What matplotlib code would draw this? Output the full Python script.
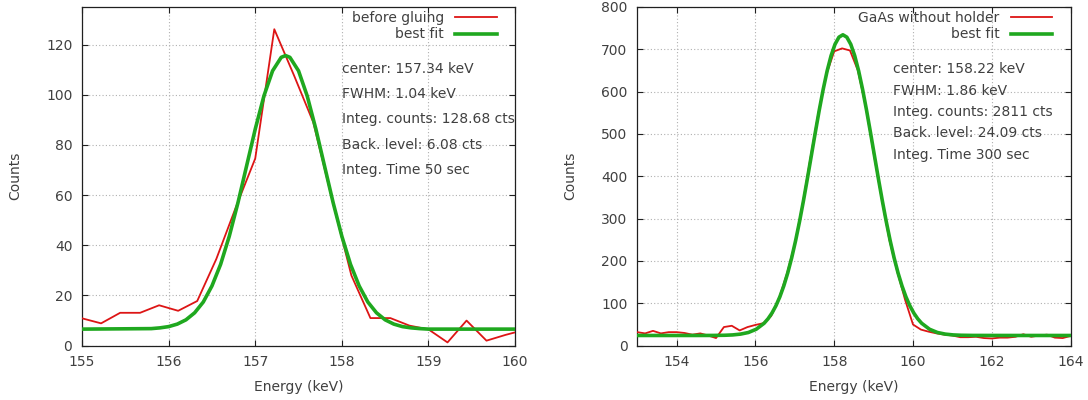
import matplotlib
matplotlib.use("Agg")
import matplotlib.pyplot as plt

# --- left panel: before gluing (counts per channel) ---
left_energy = [155.00, 155.22, 155.44, 155.67, 155.89, 156.11, 156.33, 156.55,
               156.78, 157.00, 157.22, 157.45, 157.67, 157.89, 158.11, 158.33,
               158.56, 158.78, 159.00, 159.22, 159.44, 159.67, 159.89, 160.11]
left_counts = [10.9, 8.9, 13.1, 13.1, 16.1, 13.9, 17.8, 34.5,
               55.5, 74.6, 126.1, 107.5, 89.0, 58.0, 28.0, 11.0,
               11.0, 8.0, 6.5, 1.3, 10.0, 2.0, 4.3, 6.3]

# best fit curve
left_fit_e = [155.0, 155.8, 155.9, 156.0, 156.1, 156.2, 156.3, 156.4, 156.5, 156.6,
              156.7, 156.8, 156.9, 157.0, 157.1, 157.2, 157.3, 157.35, 157.4, 157.5,
              157.6, 157.7, 157.8, 157.9, 158.0, 158.1, 158.2, 158.3, 158.4, 158.5,
              158.6, 158.7, 158.8, 158.9, 159.0, 160.0]
left_fit_c = [6.6, 6.8, 7.1, 7.6, 8.6, 10.3, 13.1, 17.4, 23.8, 32.4,
              43.6, 56.9, 71.6, 86.3, 99.5, 109.5, 114.9, 115.6, 114.9, 109.5,
              99.5, 86.3, 71.6, 56.9, 43.6, 32.4, 23.8, 17.4, 13.1, 10.3,
              8.6, 7.6, 7.1, 6.8, 6.6, 6.6]

left_info = ["center: 157.34 keV", "FWHM: 1.04 keV", "Integ. counts: 128.68 cts",
             "Back. level: 6.08 cts", "Integ. Time 50 sec"]

# --- right panel: GaAs without holder ---
right_energy = [153.0, 153.2, 153.4, 153.6, 153.8, 154.0, 154.2, 154.4, 154.6, 154.8,
                155.0, 155.2, 155.4, 155.6, 155.8, 156.0, 156.2, 156.4, 156.6, 156.8,
                157.0, 157.2, 157.4, 157.6, 157.8, 158.0, 158.2, 158.4, 158.6, 158.8,
                159.0, 159.2, 159.4, 159.6, 159.8, 160.0, 160.2, 160.4, 160.6, 160.8,
                161.0, 161.2, 161.4, 161.6, 161.8, 162.0, 162.2, 162.4, 162.6, 162.8,
                163.0, 163.2, 163.4, 163.6, 163.8, 164.0]
right_counts = [32, 29, 35, 29, 32, 32, 30, 26, 29, 24,
                18, 44, 47, 36, 44, 49, 53, 70, 112, 170,
                240, 335, 445, 550, 640, 695, 702, 697, 650, 565,
                455, 350, 250, 175, 108, 50, 38, 33, 29, 26,
                24, 20, 20, 21, 18, 17, 19, 19, 21, 27,
                21, 24, 26, 19, 18, 23]

right_fit_e = [153.00, 154.50, 154.92, 155.22, 155.42, 155.62, 155.82, 156.02, 156.22, 156.32,
               156.42, 156.52, 156.62, 156.72, 156.82, 156.92, 157.02, 157.12, 157.22, 157.32,
               157.42, 157.52, 157.62, 157.72, 157.82, 157.92, 158.02, 158.12, 158.22, 158.32,
               158.42, 158.52, 158.62, 158.72, 158.82, 158.92, 159.02, 159.12, 159.22, 159.32,
               159.42, 159.52, 159.62, 159.72, 159.82, 159.92, 160.02, 160.12, 160.22, 160.42,
               160.62, 160.82, 161.02, 161.22, 161.52, 162.50, 164.00]
right_fit_c = [24.1, 24.1, 24.2, 24.6, 25.4, 27.3, 31.1, 38.8, 52.9, 63.5,
               77.1, 94.2, 115.4, 141.2, 171.8, 207.4, 248.1, 293.4, 342.7, 395.1,
               449.3, 503.6, 556.2, 605.2, 648.7, 684.7, 711.7, 728.5, 734.1, 728.5,
               711.7, 684.7, 648.7, 605.2, 556.2, 503.6, 449.3, 395.1, 342.7, 293.4,
               248.1, 207.4, 171.8, 141.2, 115.4, 94.2, 77.1, 63.5, 52.9, 38.8,
               31.1, 27.3, 25.4, 24.6, 24.2, 24.1, 24.1]

right_info = ["center: 158.22 keV", "FWHM: 1.86 keV", "Integ. counts: 2811 cts",
              "Back. level: 24.09 cts", "Integ. Time 300 sec"]

RED = "#dd1515"
GREEN = "#1fa81f"
TXT = "#404040"

plt.rcParams["font.family"] = "DejaVu Sans"
plt.rcParams["font.size"] = 10

fig = plt.figure(figsize=(10.88, 4.0), dpi=100)
ax1 = fig.add_axes([0.0754, 0.1358, 0.398, 0.847])
ax2 = fig.add_axes([0.5857, 0.1358, 0.3983, 0.847])


def style(ax, xlim, ylim, xticks, yticks):
    ax.set_xlim(*xlim)
    ax.set_ylim(*ylim)
    ax.set_xticks(xticks)
    ax.set_yticks(yticks)
    ax.grid(True, color="#b0b0b0", linestyle=(0, (1, 2)), linewidth=0.8)
    ax.set_axisbelow(True)
    ax.tick_params(direction="in", length=4, width=0.8, colors="#202020",
                   labelcolor=TXT, top=True, right=True, labelsize=10, pad=7)
    for sp in ax.spines.values():
        sp.set_color("#202020")
        sp.set_linewidth(0.9)
    ax.set_xlabel("Energy (keV)", color=TXT, fontsize=10, labelpad=7.5)
    ax.set_ylabel("Counts", color=TXT, fontsize=10, labelpad=17)


def legend(ax):
    ax.legend(loc="upper right", bbox_to_anchor=(0.958, 0.987), frameon=False,
              markerfirst=False, handlelength=3.0, handletextpad=0.8,
              labelspacing=0.15, borderaxespad=0, borderpad=0,
              labelcolor=TXT, fontsize=10)


# left
ax1.plot(left_energy, left_counts, color=RED, lw=1.3, label="before gluing", zorder=3)
ax1.plot(left_fit_e, left_fit_c, color=GREEN, lw=2.6, label="best fit", zorder=4)
style(ax1, (155, 160), (0, 135), range(155, 161), range(0, 121, 20))
for i, s in enumerate(left_info):
    ax1.text(0.600, 0.817 - i * 0.0745, s, transform=ax1.transAxes,
             ha="left", va="center", color=TXT, fontsize=10)
legend(ax1)

# right
ax2.plot(right_energy, right_counts, color=RED, lw=1.3, label="GaAs without holder", zorder=3)
ax2.plot(right_fit_e, right_fit_c, color=GREEN, lw=2.6, label="best fit", zorder=4)
style(ax2, (153, 164), (0, 800), range(154, 165, 2), range(0, 801, 100))
for i, s in enumerate(right_info):
    ax2.text(0.591, 0.816 - i * 0.063, s, transform=ax2.transAxes,
             ha="left", va="center", color=TXT, fontsize=10)
legend(ax2)

fig.savefig("out.png", dpi=100)
